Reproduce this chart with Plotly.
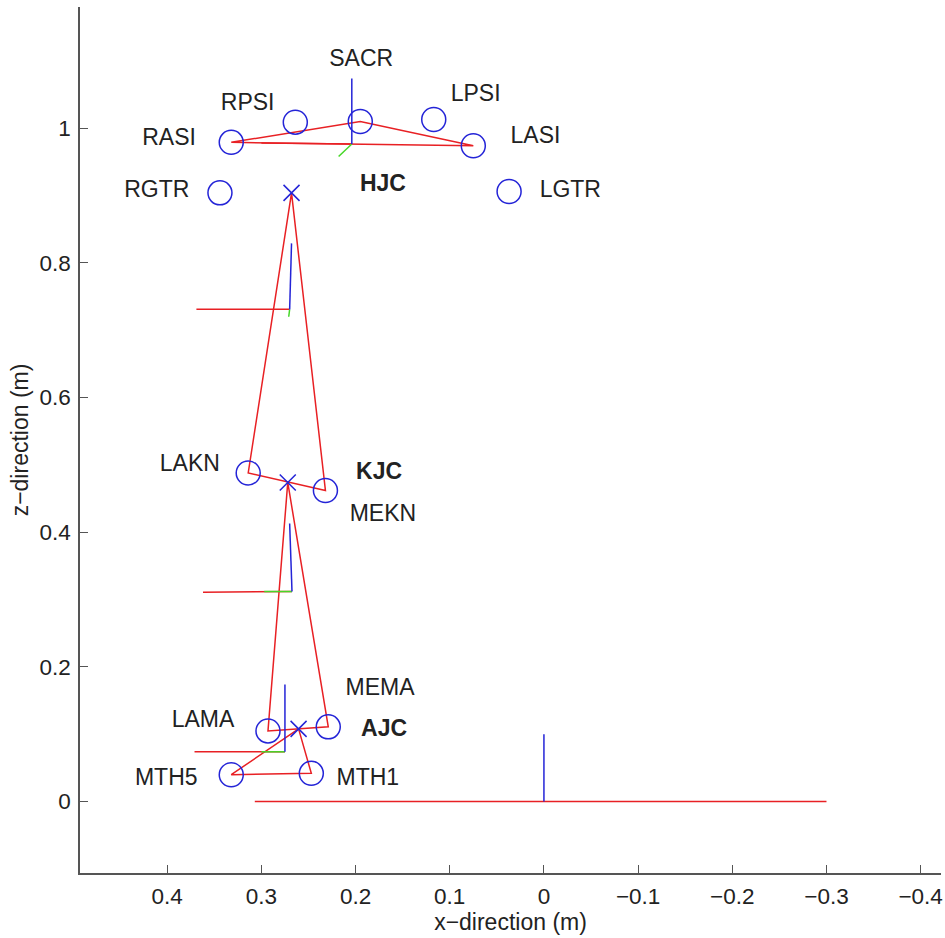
import plotly.graph_objects as go

# ---------------- data (metres) ----------------
marker_names = ["RASI", "RPSI", "SACR", "LPSI", "LASI", "RGTR", "LGTR",
                "LAKN", "MEKN", "LAMA", "MEMA", "MTH5", "MTH1"]
marker_x = [0.332, 0.264, 0.195, 0.117, 0.075, 0.344, 0.037,
            0.314, 0.232, 0.293, 0.229, 0.332, 0.247]
marker_z = [0.979, 1.009, 1.010, 1.013, 0.974, 0.904, 0.906,
            0.488, 0.462, 0.105, 0.111, 0.040, 0.042]

joint_names = ["HJC", "KJC", "AJC"]
joint_x = [0.268, 0.272, 0.2605]
joint_z = [0.904, 0.474, 0.108]

# segment polygons (by point name)
segments = [
    ["RASI", "SACR", "LASI", "RASI"],   # pelvis
    ["HJC", "LAKN", "MEKN", "HJC"],     # thigh
    ["KJC", "LAMA", "MEMA", "KJC"],     # shank
    ["AJC", "MTH5", "MTH1", "AJC"],     # foot
]

# local coordinate frames: origin and axis end points (x-axis red, y green, z blue)
frame_names = ["pelvis", "thigh", "shank", "foot"]
frame_ox = [0.204, 0.270, 0.2675, 0.275]
frame_oz = [0.9765, 0.731, 0.312, 0.074]
frame_red_x = [0.300, 0.369, 0.362, 0.371]
frame_red_z = [0.978, 0.731, 0.311, 0.074]
frame_green_x = [0.218, 0.271, 0.297, 0.300]
frame_green_z = [0.958, 0.720, 0.312, 0.074]
frame_blue_x = [0.204, 0.268, 0.270, 0.275]
frame_blue_z = [1.074, 0.829, 0.413, 0.174]

# global frame
global_red_x = [0.307, -0.30]
global_red_z = [0.0, 0.0]
global_blue_x = [0.0, 0.0]
global_blue_z = [0.0, 0.10]

# label positions
label_names = ["SACR", "LPSI", "LASI", "LGTR", "RPSI", "RASI", "RGTR",
               "LAKN", "MEKN", "MEMA", "LAMA", "MTH5", "MTH1"]
label_x = [0.194, 0.0725, 0.009, -0.028, 0.3146, 0.398, 0.411,
           0.376, 0.171, 0.174, 0.362, 0.401, 0.187]
label_z = [1.101, 1.049, 0.986, 0.907, 1.036, 0.983, 0.907,
           0.499, 0.425, 0.1675, 0.120, 0.0337, 0.0337]
joint_label_x = [0.171, 0.175, 0.1697]
joint_label_z = [0.915, 0.488, 0.1055]

x_ticks = [0.4, 0.3, 0.2, 0.1, 0.0, -0.1, -0.2, -0.3, -0.4]
x_ticktext = ["0.4", "0.3", "0.2", "0.1", "0", "\u22120.1", "\u22120.2", "\u22120.3", "\u22120.4"]
z_ticks = [0, 0.2, 0.4, 0.6, 0.8, 1.0]
z_ticktext = ["0", "0.2", "0.4", "0.6", "0.8", "1"]

# ---------------- styling ----------------
RED = "rgb(232,32,36)"
BLUE = "rgb(36,36,215)"
GREEN = "rgb(70,215,40)"
TXT = "#222222"
FONT = "Liberation Sans, Arial, sans-serif"
FS = 23

pos = {n: (x, z) for n, x, z in zip(marker_names, marker_x, marker_z)}
pos.update({n: (x, z) for n, x, z in zip(joint_names, joint_x, joint_z)})

fig = go.Figure()

# segment lines
for seg in segments:
    fig.add_trace(go.Scatter(
        x=[pos[n][0] for n in seg], y=[pos[n][1] for n in seg],
        mode="lines", line=dict(color=RED, width=1.5),
        hoverinfo="skip", showlegend=False))

# frames: red, then green, then blue
def add_axes(ox, oz, ex, ez, color):
    xs, zs = [], []
    for a, b, c, d in zip(ox, oz, ex, ez):
        xs += [a, c, None]
        zs += [b, d, None]
    fig.add_trace(go.Scatter(x=xs, y=zs, mode="lines",
                             line=dict(color=color, width=1.5),
                             hoverinfo="skip", showlegend=False))

add_axes(frame_ox, frame_oz, frame_red_x, frame_red_z, RED)
add_axes(frame_ox, frame_oz, frame_green_x, frame_green_z, GREEN)
add_axes(frame_ox, frame_oz, frame_blue_x, frame_blue_z, BLUE)

fig.add_trace(go.Scatter(x=global_red_x, y=global_red_z, mode="lines",
                         line=dict(color=RED, width=1.5), hoverinfo="skip", showlegend=False))
fig.add_trace(go.Scatter(x=global_blue_x, y=global_blue_z, mode="lines",
                         line=dict(color=BLUE, width=1.5), hoverinfo="skip", showlegend=False))

# markers
fig.add_trace(go.Scatter(
    x=marker_x, y=marker_z, mode="markers", text=marker_names,
    marker=dict(symbol="circle-open", size=24, color=BLUE, line=dict(width=1.5, color=BLUE)),
    showlegend=False))
fig.add_trace(go.Scatter(
    x=joint_x, y=joint_z, mode="markers", text=joint_names,
    marker=dict(symbol="x-thin-open", size=16, color=BLUE, line=dict(width=1.5, color=BLUE)),
    showlegend=False))

# labels
fig.add_trace(go.Scatter(
    x=label_x, y=label_z, mode="text", text=label_names,
    textposition="middle center",
    textfont=dict(family=FONT, size=FS, color=TXT),
    hoverinfo="skip", showlegend=False))
fig.add_trace(go.Scatter(
    x=joint_label_x, y=joint_label_z, mode="text", text=joint_names,
    textposition="middle center",
    textfont=dict(family=FONT, size=FS, color=TXT, weight="bold"),
    hoverinfo="skip", showlegend=False))

axis_common = dict(
    showline=True, linecolor="#555555", linewidth=1.5,
    ticks="inside", ticklen=8, tickwidth=1.2, tickcolor="#555555",
    showgrid=False, zeroline=False, mirror=False,
    tickfont=dict(family=FONT, size=22.5, color=TXT),
)

fig.update_layout(
    width=945, height=938,
    margin=dict(l=80, r=2, t=7, b=65),
    paper_bgcolor="white", plot_bgcolor="white",
    font=dict(family=FONT, size=FS, color=TXT),
    xaxis=dict(range=[0.4926, -0.4216], tickvals=x_ticks, ticktext=x_ticktext,
               ticklabelstandoff=2,
               title=dict(text="x\u2212direction (m)", standoff=2,
                          font=dict(family=FONT, size=FS, color=TXT)),
               **axis_common),
    yaxis=dict(range=[-0.106, 1.18], tickvals=z_ticks, ticktext=z_ticktext,
               ticklabelstandoff=3,
               title=dict(text="z\u2212direction (m)", standoff=4,
                          font=dict(family=FONT, size=FS, color=TXT)),
               **axis_common),
)

fig.write_html("out.html")
